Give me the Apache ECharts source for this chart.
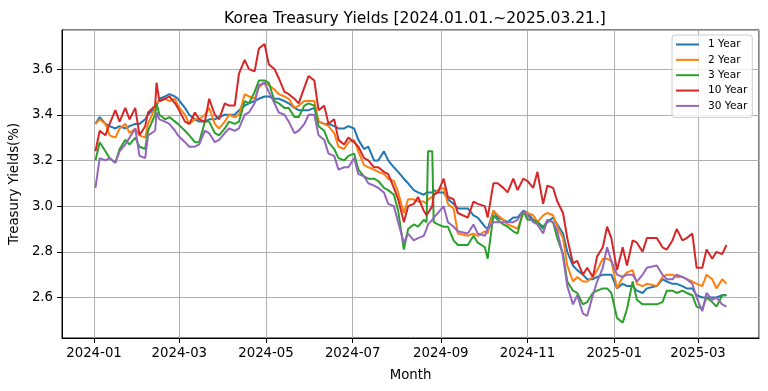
<!DOCTYPE html>
<html>
<head>
<meta charset="utf-8">
<script src="https://cdn.jsdelivr.net/npm/echarts@6/dist/echarts.min.js"></script>
<style>
html,body{margin:0;padding:0;background:#fff;}
#chart{width:768px;height:391px;}
</style>
</head>
<body>
<div id="chart"></div>
<script>
const dates = [
'2024-01-02','2024-01-05','2024-01-09','2024-01-12','2024-01-16','2024-01-19','2024-01-23','2024-01-26','2024-01-30',
'2024-02-02','2024-02-06','2024-02-08','2024-02-13','2024-02-14','2024-02-16','2024-02-20','2024-02-23','2024-02-27','2024-02-29',
'2024-03-05','2024-03-08','2024-03-12','2024-03-15','2024-03-19','2024-03-22','2024-03-26','2024-03-29',
'2024-04-02','2024-04-05','2024-04-09','2024-04-12','2024-04-16','2024-04-19','2024-04-23','2024-04-26','2024-04-30',
'2024-05-03','2024-05-07','2024-05-10','2024-05-14','2024-05-17','2024-05-21','2024-05-24','2024-05-28','2024-05-31',
'2024-06-04','2024-06-07','2024-06-11','2024-06-14','2024-06-18','2024-06-21','2024-06-25','2024-06-28',
'2024-07-02','2024-07-05','2024-07-09','2024-07-12','2024-07-16','2024-07-19','2024-07-23','2024-07-26','2024-07-30',
'2024-08-02','2024-08-06','2024-08-09','2024-08-13','2024-08-16','2024-08-20','2024-08-22','2024-08-23','2024-08-26','2024-08-27','2024-08-30',
'2024-09-03','2024-09-06','2024-09-10','2024-09-13','2024-09-20','2024-09-24','2024-09-27',
'2024-10-02','2024-10-04','2024-10-08','2024-10-11','2024-10-15','2024-10-18','2024-10-22','2024-10-25','2024-10-29',
'2024-11-01','2024-11-05','2024-11-08','2024-11-12','2024-11-15','2024-11-19','2024-11-22','2024-11-26','2024-11-29',
'2024-12-03','2024-12-06','2024-12-10','2024-12-13','2024-12-17','2024-12-20','2024-12-24','2024-12-27','2024-12-30',
'2025-01-03','2025-01-07','2025-01-10','2025-01-14','2025-01-17','2025-01-21','2025-01-24','2025-01-31',
'2025-02-04','2025-02-07','2025-02-11','2025-02-14','2025-02-18','2025-02-21','2025-02-25','2025-02-28',
'2025-03-04','2025-03-07','2025-03-11','2025-03-14','2025-03-18','2025-03-21'
];

const y1 = [
3.36,3.39,3.36,3.35,3.34,3.35,3.34,3.35,3.36,
3.36,3.38,3.40,3.43,3.44,3.47,3.48,3.49,3.48,3.47,
3.43,3.40,3.38,3.37,3.37,3.38,3.38,3.39,
3.40,3.40,3.40,3.42,3.44,3.45,3.46,3.47,3.48,
3.48,3.47,3.47,3.46,3.45,3.43,3.42,3.42,3.42,
3.43,3.37,3.36,3.36,3.35,3.34,3.34,3.35,
3.34,3.29,3.25,3.26,3.20,3.20,3.24,3.20,3.17,
3.15,3.12,3.10,3.07,3.06,3.05,3.06,3.06,3.06,3.07,3.06,
3.06,3.03,3.01,2.99,2.99,2.96,2.95,
2.91,2.90,2.98,2.95,2.94,2.93,2.95,2.95,2.98,
2.97,2.94,2.93,2.91,2.93,2.95,2.92,2.88,2.80,
2.74,2.72,2.70,2.68,2.68,2.69,2.70,2.70,2.70,
2.64,2.66,2.65,2.65,2.63,2.62,2.64,2.65,
2.68,2.67,2.66,2.66,2.65,2.64,2.64,2.61,
2.60,2.60,2.60,2.60,2.61,2.61
];

const y2 = [
3.36,3.38,3.36,3.31,3.30,3.34,3.36,3.32,3.34,
3.31,3.30,3.36,3.43,3.45,3.46,3.47,3.46,3.47,3.44,
3.40,3.36,3.38,3.38,3.40,3.43,3.36,3.34,
3.37,3.40,3.39,3.40,3.49,3.48,3.47,3.52,3.54,
3.53,3.51,3.49,3.48,3.47,3.43,3.44,3.46,3.46,
3.46,3.37,3.36,3.35,3.32,3.26,3.25,3.28,
3.29,3.24,3.18,3.17,3.16,3.15,3.14,3.12,3.11,
3.06,2.97,3.03,3.03,3.02,3.02,3.01,3.03,3.04,3.04,3.07,
3.08,3.01,2.99,2.88,2.87,2.88,2.87,
2.89,2.88,2.98,2.96,2.94,2.92,2.91,2.90,2.97,
2.97,2.96,2.93,2.96,2.97,2.96,2.91,2.86,2.74,
2.67,2.69,2.67,2.67,2.69,2.72,2.77,2.77,2.76,
2.64,2.69,2.71,2.72,2.66,2.65,2.66,2.65,
2.69,2.70,2.70,2.69,2.69,2.68,2.67,2.66,
2.65,2.70,2.68,2.64,2.68,2.66
];

const y3 = [
3.20,3.28,3.24,3.21,3.19,3.25,3.29,3.27,3.30,
3.26,3.25,3.33,3.40,3.45,3.40,3.38,3.39,3.37,3.36,
3.33,3.31,3.28,3.28,3.37,3.37,3.32,3.31,
3.34,3.37,3.36,3.37,3.46,3.45,3.50,3.55,3.55,
3.54,3.46,3.45,3.43,3.43,3.39,3.39,3.44,3.45,
3.44,3.35,3.33,3.28,3.25,3.21,3.20,3.22,
3.23,3.16,3.13,3.12,3.12,3.11,3.08,3.07,3.05,
2.98,2.81,2.90,2.92,2.91,2.94,2.93,3.24,3.24,2.93,2.92,
2.91,2.91,2.85,2.83,2.83,2.87,2.84,
2.82,2.77,2.96,2.94,2.92,2.91,2.89,2.88,2.98,
2.94,2.94,2.93,2.90,2.94,2.93,2.86,2.79,2.67,
2.63,2.62,2.57,2.58,2.62,2.63,2.64,2.64,2.62,
2.51,2.49,2.55,2.67,2.59,2.57,2.57,2.57,
2.58,2.63,2.63,2.62,2.63,2.62,2.61,2.56,
2.55,2.60,2.58,2.56,2.61,2.61
];

const y10 = [
3.24,3.33,3.31,3.36,3.42,3.37,3.43,3.38,3.43,
3.31,3.35,3.41,3.44,3.54,3.46,3.47,3.48,3.45,3.43,
3.37,3.36,3.41,3.38,3.37,3.47,3.40,3.38,
3.45,3.44,3.44,3.58,3.64,3.60,3.59,3.69,3.71,
3.62,3.60,3.56,3.50,3.49,3.47,3.45,3.52,3.57,
3.55,3.42,3.44,3.36,3.38,3.29,3.27,3.30,
3.28,3.26,3.21,3.20,3.17,3.17,3.15,3.14,3.08,
3.03,2.93,3.00,3.01,3.04,2.98,2.96,2.97,3.00,3.05,3.06,
3.12,3.04,3.03,2.97,2.95,3.02,3.01,
3.00,2.95,3.10,3.10,3.08,3.06,3.12,3.07,3.12,
3.11,3.08,3.15,3.01,3.09,3.08,3.02,2.97,2.86,
2.75,2.76,2.70,2.73,2.69,2.78,2.82,2.91,2.86,
2.72,2.82,2.74,2.85,2.84,2.80,2.86,2.86,
2.82,2.81,2.85,2.90,2.85,2.86,2.88,2.73,
2.73,2.81,2.77,2.80,2.79,2.83
];

const y30 = [
3.08,3.21,3.20,3.21,3.19,3.24,3.27,3.30,3.34,
3.22,3.21,3.31,3.33,3.41,3.38,3.37,3.36,3.33,3.31,
3.28,3.26,3.26,3.27,3.33,3.32,3.28,3.29,
3.32,3.34,3.33,3.34,3.40,3.41,3.45,3.53,3.54,
3.50,3.45,3.41,3.40,3.37,3.32,3.33,3.36,3.40,
3.40,3.31,3.29,3.23,3.22,3.16,3.17,3.17,
3.21,3.14,3.13,3.10,3.09,3.08,3.06,3.01,3.00,
2.93,2.84,2.88,2.85,2.86,2.87,2.90,2.92,2.94,2.95,2.97,
3.00,2.93,2.91,2.89,2.88,2.92,2.88,
2.87,2.90,2.93,2.93,2.93,2.93,2.93,2.94,2.98,
2.96,2.93,2.92,2.88,2.94,2.93,2.89,2.78,2.65,
2.57,2.61,2.53,2.52,2.61,2.67,2.73,2.82,2.76,
2.70,2.69,2.70,2.70,2.67,2.70,2.73,2.74,
2.70,2.68,2.68,2.70,2.69,2.68,2.66,2.60,
2.54,2.62,2.59,2.60,2.57,2.56
];

const seriesNames = ['1 Year','2 Year','3 Year','10 Year','30 Year'];
const seriesValues = [y1, y2, y3, y10, y30];
const colors = ['#1f77b4','#ff7f0e','#2ca02c','#d62728','#9467bd'];
const titleText = 'Korea Treasury Yields [2024.01.01.~2025.03.21.]';

const DAY = 86400000;
const t0 = new Date(2024, 0, 1).getTime();
const FONT = 'DejaVu Sans';

const chart = echarts.init(document.getElementById('chart'), null, {renderer: 'canvas'});

function pad2(n){ return (n < 10 ? '0' : '') + n; }

chart.setOption({
  animation: false,
  backgroundColor: '#ffffff',
  color: colors,
  title: {
    text: titleText,
    left: 410,
    textAlign: 'center',
    top: 6,
    textStyle: {fontFamily: FONT, fontSize: 15.5, fontWeight: 'normal', color: '#000'}
  },
  legend: {
    orient: 'vertical',
    left: 672,
    top: 35,
    padding: [3, 5, 5, 4],
    itemGap: 2.35,
    itemWidth: 23,
    itemHeight: 2,
    icon: 'rect',
    backgroundColor: 'rgba(255,255,255,0.8)',
    borderColor: '#cccccc',
    borderWidth: 1,
    borderRadius: 3,
    textStyle: {fontFamily: FONT, fontSize: 10.6, color: '#000', lineHeight: 13, padding: [0, 0, 0, 4]},
    data: seriesNames
  },
  grid: {
    left: 61, right: 9, top: 30, bottom: 53,
    show: true, borderColor: '#000', borderWidth: 1, backgroundColor: 'transparent'
  },
  xAxis: {
    type: 'time',
    min: t0 - 22.5 * DAY,
    max: t0 + 467.9 * DAY,
    splitNumber: 8,
    name: 'Month',
    nameLocation: 'middle',
    nameGap: 31,
    nameTextStyle: {fontFamily: FONT, fontSize: 13.3, color: '#000'},
    axisLine: {show: true, lineStyle: {color: '#000', width: 1}},
    axisTick: {show: true, length: 5, lineStyle: {color: '#000', width: 1}},
    splitLine: {show: true, lineStyle: {color: '#b0b0b0', width: 1}},
    axisLabel: {
      fontFamily: FONT, fontSize: 13.3, color: '#000', margin: 9,
      showMinLabel: false, showMaxLabel: false,
      formatter: function (v) { const d = new Date(v); return d.getFullYear() + '-' + pad2(d.getMonth() + 1); }
    }
  },
  yAxis: {
    type: 'value',
    min: 2.4228,
    max: 3.771,
    splitNumber: 7,
    minInterval: 0.2,
    maxInterval: 0.2,
    name: 'Treasury Yields(%)',
    nameLocation: 'middle',
    nameGap: 32,
    nameTextStyle: {fontFamily: FONT, fontSize: 13.3, color: '#000'},
    axisLine: {show: true, lineStyle: {color: '#000', width: 1}},
    axisTick: {show: true, length: 5, lineStyle: {color: '#000', width: 1}},
    splitLine: {show: true, lineStyle: {color: '#b0b0b0', width: 1}},
    axisLabel: {
      fontFamily: FONT, fontSize: 13.3, color: '#000', margin: 9,
      showMinLabel: false, showMaxLabel: false,
      formatter: function (v) { return v.toFixed(1); }
    }
  },
  series: seriesNames.map(function (name, k) {
    return {
      name: name,
      type: 'line',
      showSymbol: false,
      symbol: 'none',
      lineStyle: {width: 2, color: colors[k]},
      itemStyle: {color: colors[k]},
      data: dates.map(function (d, i) { return [d, seriesValues[k][i]]; })
    };
  })
});
</script>
</body>
</html>
